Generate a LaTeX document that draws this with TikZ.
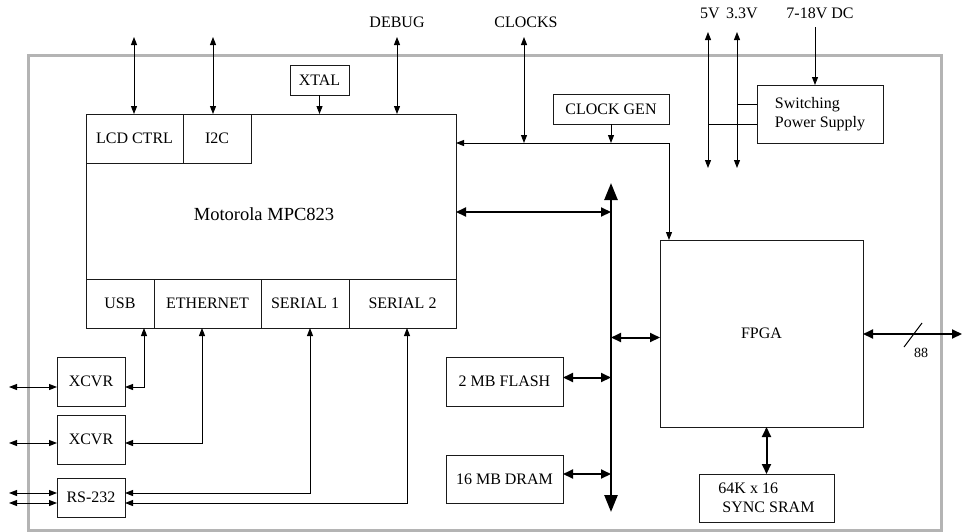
\documentclass[tikz,border=0pt]{standalone}
\usepackage{fontspec}
\setmainfont{Liberation Serif}
\usepackage{xcolor}
\definecolor{framegray}{HTML}{B4B4B4}
\definecolor{inkdark}{HTML}{1A1A1A}
\usetikzlibrary{arrows.meta, positioning, calc}

\begin{document}
\begin{tikzpicture}[
        x=1pt, y=-1pt,
        font=\fontsize{16}{19}\selectfont,
        chip_box/.style={
            rectangle,
            draw=inkdark,
            line width=1pt,
            outer sep=0pt,
            inner sep=0pt,
            align=center,
            anchor=north west
        },
        sub_cell/.style={
            chip_box,
            minimum height=49pt
        },
        ext_label/.style={
            inner sep=0pt
        },
        io_arrow/.style={
            {Triangle[length=8pt,width=6pt]}-{Triangle[length=8pt,width=6pt]},
            draw=black,
            line width=1pt
        },
        in_arrow/.style={
            -{Triangle[length=8pt,width=6pt]},
            draw=black,
            line width=1pt
        },
        link_arrow/.style={
            {Triangle[length=10pt,width=9pt]}-{Triangle[length=10pt,width=9pt]},
            draw=black,
            line width=2pt
        },
        bus_arrow/.style={
            {Triangle[length=17pt,width=13pt]}-{Triangle[length=17pt,width=13pt]},
            draw=black,
            line width=2.5pt
        },
        wire/.style={
            draw=black,
            line width=1pt
        }
    ]

    \useasboundingbox (0,0) rectangle (964,531);

    % Board outline
    \draw[framegray, line width=3pt] (28,55) rectangle (941,530);

    % Processor
    \node[chip_box, minimum width=370pt, minimum height=214pt] (mpc) at (86,114) {};
    \node[font=\fontsize{18.5}{22}\selectfont] (mpc_name) at (264,214) {Motorola MPC823};
    \node[sub_cell, minimum width=97pt] (lcd) at (mpc.north west) {LCD CTRL};
    \node[sub_cell, minimum width=68pt, right=0pt of lcd] (i2c) {I2C};
    \node[sub_cell, minimum width=68pt, anchor=south west] (usb) at (mpc.south west) {USB};
    \node[sub_cell, minimum width=107pt, right=0pt of usb] (eth) {ETHERNET};
    \node[sub_cell, minimum width=88pt, right=0pt of eth] (ser1) {SERIAL 1};
    \node[sub_cell, minimum width=107pt, right=0pt of ser1] (ser2) {SERIAL 2};

    % Clocking and power
    \node[chip_box, minimum width=59pt, minimum height=30pt] (xtal) at (290,65) {XTAL};
    \node[chip_box, minimum width=116pt, minimum height=30pt] (clkgen) at (553,94) {CLOCK GEN};
    \node[chip_box, minimum width=126pt, minimum height=58pt, align=left] (psu) at (757,85) {Switching\\Power Supply};

    % FPGA and memories
    \node[chip_box, minimum width=203pt, minimum height=187pt] (fpga) at (660,240) {FPGA};
    \node[chip_box, minimum width=135pt, minimum height=48pt, align=left] (sram) at (699,474) {64K x 16\\\hspace*{4pt}SYNC SRAM};
    \node[chip_box, minimum width=117pt, minimum height=49pt] (flash) at (446,357) {2 MB FLASH};
    \node[chip_box, minimum width=117pt, minimum height=48pt, below=49pt of flash] (dram) {16 MB DRAM};

    % Transceivers
    \node[chip_box, minimum width=68pt, minimum height=49pt] (xcvra) at (57,357) {XCVR};
    \node[chip_box, minimum width=68pt, minimum height=49pt, below=9pt of xcvra] (xcvrb) {XCVR};
    \node[chip_box, minimum width=68pt, minimum height=39pt, below=14pt of xcvrb] (rs) {RS-232};

    % External labels
    \node[ext_label] (debug) at (397,22) {DEBUG};
    \node[ext_label] (clocks) at (526,22) {CLOCKS};
    \node[ext_label] (v5) at (710,13) {5V};
    \node[ext_label] (v33) at (742,13) {3.3V};
    \node[ext_label] (dc) at (820,13) {7-18V DC};

    % Top connections
    \coordinate (lcd_ext) at (134,37);
    \coordinate (i2c_ext) at (213,37);
    \coordinate (debug_ext) at (397,37);
    \coordinate (clocks_ext) at (524,37);
    \draw[io_arrow] (lcd_ext) -- (lcd_ext |- lcd.north);
    \draw[io_arrow] (i2c_ext) -- (i2c_ext |- i2c.north);
    \draw[in_arrow] (xtal.south) -- (xtal.south |- mpc.north);
    \draw[io_arrow] (debug_ext) -- (debug_ext |- mpc.north);

    % Clock net
    \coordinate (clk_corner) at (669,143);
    \draw[io_arrow] (mpc.east |- clk_corner) -- (clk_corner) -- (clk_corner |- fpga.north);
    \draw[io_arrow] (clocks_ext) -- (clocks_ext |- clk_corner);
    \draw[in_arrow] (clkgen.south) -- (clkgen.south |- clk_corner);

    % Power rails
    \coordinate (v5_top) at (708,32);
    \coordinate (v5_bot) at (708,168);
    \coordinate (v33_top) at (737,32);
    \coordinate (v33_bot) at (737,168);
    \coordinate (dc_in) at (815,27);
    \draw[io_arrow] (v5_top) -- (v5_bot);
    \draw[io_arrow] (v33_top) -- (v33_bot);
    \draw[in_arrow] (dc_in) -- (dc_in |- psu.north);
    \coordinate (psu_33) at ([yshift=10pt]psu.west);
    \coordinate (psu_5) at ([yshift=-10pt]psu.west);
    \draw[wire] (psu_33) -- (psu_33 -| v33_top);
    \draw[wire] (psu_5) -- (psu_5 -| v5_top);

    % Local bus
    \coordinate (bus_top) at (611,183);
    \coordinate (bus_bot) at (611,512);
    \draw[bus_arrow] (bus_top) -- (bus_bot);
    \draw[link_arrow] ([yshift=9pt]mpc.east) -- ([yshift=9pt]mpc.east -| bus_top);
    \draw[link_arrow] ([yshift=4pt]flash.east) -- ([yshift=4pt]flash.east -| bus_top);
    \draw[link_arrow] ([yshift=5pt]dram.east) -- ([yshift=5pt]dram.east -| bus_top);
    \draw[link_arrow] ([yshift=-4pt]fpga.west -| bus_top) -- ([yshift=-4pt]fpga.west);
    \draw[link_arrow] (sram.north) -- (sram.north |- fpga.south);

    % FPGA I/O
    \coordinate (fpga_ext) at (962,334);
    \draw[link_arrow] (fpga_ext -| fpga.east) -- (fpga_ext);
    \coordinate (bus_width) at (913,335);
    \draw[wire] ([shift={(-9,12)}]bus_width) -- ([shift={(9,-12)}]bus_width);
    \node[ext_label, font=\fontsize{14}{16}\selectfont] (width_label) at (921,353) {88};

    % Serial side
    \coordinate (xa_ext) at (9,387);
    \coordinate (xb_ext) at (9,443);
    \coordinate (rsa_ext) at (9,493);
    \coordinate (rsb_ext) at (9,503);
    \draw[io_arrow] (xa_ext) -- (xa_ext -| xcvra.west);
    \draw[io_arrow] (xb_ext) -- (xb_ext -| xcvrb.west);
    \draw[io_arrow] (rsa_ext) -- (rsa_ext -| rs.west);
    \draw[io_arrow] (rsb_ext) -- (rsb_ext -| rs.west);
    \draw[io_arrow] ([xshift=24pt]usb.south) |- (xa_ext -| xcvra.east);
    \draw[io_arrow] ([xshift=-5.5pt]eth.south) |- (xb_ext -| xcvrb.east);
    \draw[io_arrow] ([xshift=5pt]ser1.south) |- (rsa_ext -| rs.east);
    \draw[io_arrow] ([xshift=4.5pt]ser2.south) |- (rsb_ext -| rs.east);

\end{tikzpicture}
\end{document}
